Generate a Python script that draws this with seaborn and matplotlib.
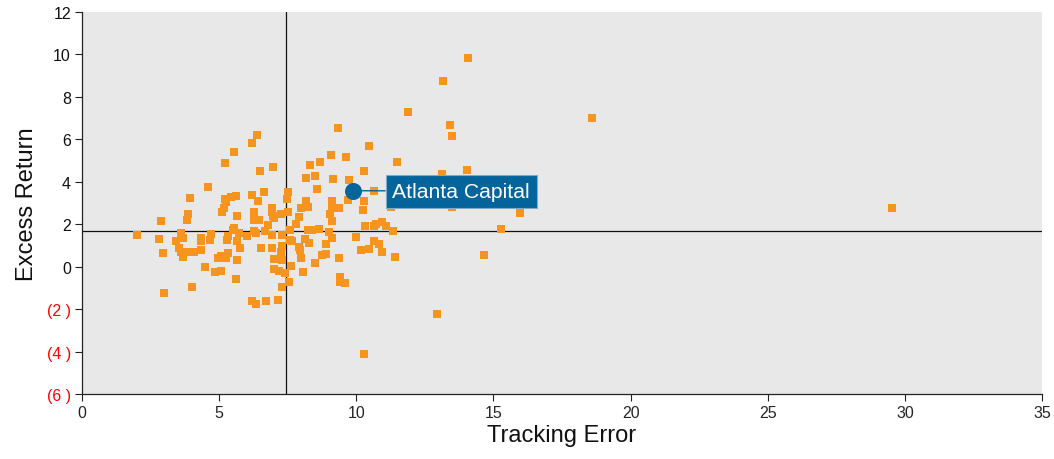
import matplotlib
matplotlib.use("Agg")
import matplotlib.pyplot as plt
import seaborn as sns
import pandas as pd
from matplotlib.ticker import FixedLocator, FuncFormatter

# ---- data ----
tracking_error = [
    2.01, 2.81, 2.88, 2.95, 2.99, 3.43, 3.54, 3.61, 3.68, 3.61, 3.81, 4.07, 3.68, 3.83, 3.87, 3.94,
    4.01, 4.34, 4.34, 4.34, 4.49, 4.60, 4.67, 4.69, 4.85, 5.07, 4.96, 5.07, 5.25, 5.32, 5.32, 5.29,
    5.11, 5.18, 5.22, 5.24, 5.22, 5.43, 5.54, 5.62, 5.65, 5.54, 5.51, 5.73, 5.65, 5.76, 5.65, 5.62,
    6.02, 6.20, 6.38, 6.48, 6.20, 6.42, 6.27, 6.27, 6.46, 6.27, 6.36, 6.20, 6.35, 6.64, 6.67, 6.53,
    6.71, 6.78, 6.93, 6.93, 6.97, 7.00, 6.97, 6.93, 6.93, 7.00, 7.00, 7.15, 7.18, 7.26, 7.29, 7.29,
    7.26, 7.29, 7.29, 7.40, 7.51, 7.48, 7.51, 7.55, 7.59, 7.59, 7.66, 7.62, 7.80, 7.91, 7.91, 7.95,
    7.99, 7.99, 8.06, 8.13, 8.17, 8.17, 8.24, 8.24, 8.28, 8.32, 8.39, 8.50, 8.50, 8.57, 8.64, 8.68,
    8.75, 8.90, 8.90, 9.01, 9.04, 9.08, 9.12, 9.12, 9.12, 9.12, 9.15, 9.34, 9.37, 9.37, 9.41, 9.41,
    9.59, 9.63, 9.70, 9.74, 9.99, 10.17, 10.25, 10.28, 10.28, 10.28, 10.32, 10.47, 10.47, 10.65,
    10.65, 10.65, 10.72, 10.83, 10.94, 10.94, 11.09, 11.27, 11.34, 11.41, 11.49, 11.89, 12.95,
    13.13, 13.17, 13.42, 13.49, 13.49, 14.04, 14.08, 14.66, 15.28, 15.97, 18.60, 29.54,
]
excess_return = [
    1.50, 1.31, 2.16, 0.65, -1.24, 1.21, 0.88, 1.59, 1.35, 0.69, 0.69, 0.69, 0.46, 2.20, 2.49, 3.24,
    -0.96, 1.35, 1.21, 0.79, -0.02, 3.76, 1.26, 1.54, -0.25, -0.20, 0.41, 0.50, 0.41, 0.65, 1.45, 1.26,
    2.58, 2.77, 3.19, 3.05, 4.89, 3.29, 5.41, 3.33, 2.39, 1.83, 1.75, 1.59, 1.21, 0.88, 0.32, -0.58,
    1.45, 5.83, 6.21, 4.51, 3.38, 3.10, 2.58, 2.20, 2.20, 1.68, 1.59, -1.62, -1.76, 3.52, 1.68, 0.88,
    -1.62, 1.97, 2.77, 2.58, 2.39, 2.30, 4.70, 1.50, 0.88, 0.36, -0.11, -1.57, -0.20, 2.49, 1.50, 0.98,
    0.69, 0.32, -0.96, -0.30, 3.52, 3.19, 2.58, -0.72, 1.73, 1.26, 1.21, 0.03, 2.01, 2.34, 0.93, 0.79,
    2.77, 0.41, -0.25, 1.31, 4.18, 3.10, 2.82, 1.73, 1.12, 4.80, 1.73, 4.28, 0.17, 3.67, 1.78, 4.94,
    0.55, 0.60, 1.07, 1.64, 2.49, 5.27, 3.10, 2.77, 2.16, 1.35, 4.14, 6.54, 2.77, 0.41, -0.49, -0.72,
    -0.77, 5.17, 3.15, 4.09, 1.40, 0.79, 2.67, 4.51, 3.10, -4.12, 1.92, 5.69, 0.83, 3.57,
    1.92, 1.21, 2.01, 1.07, 2.11, 0.69, 1.92, 2.82, 1.68, 0.46, 4.94, 7.30, -2.23,
    4.37, 8.76, 6.68, 6.17, 2.82, 4.56, 9.84, 0.55, 1.78, 2.53, 7.01, 2.77,
]
highlight_name = "Atlanta Capital"
highlight_te = 9.87
highlight_er = 3.58
mean_te = 7.43
mean_er = 1.70
x_ticks = [0, 5, 10, 15, 20, 25, 30, 35]
y_ticks = [-6, -4, -2, 0, 2, 4, 6, 8, 10, 12]
x_label = "Tracking Error"
y_label = "Excess Return"

df = pd.DataFrame({"te": tracking_error, "er": excess_return})

# ---- styling ----
sns.set_style("white")
plt.rcParams["font.family"] = ["Liberation Sans", "DejaVu Sans"]

fig = plt.figure(figsize=(10.54, 4.6), dpi=100)
ax = fig.add_axes([82 / 1054, 65 / 460, 960 / 1054, 382 / 460])
ax.set_facecolor("#E8E8E8")

ORANGE = "#F7941D"
BLUE = "#03659C"

ax.axvline(mean_te, color="#111111", lw=0.9, zorder=1)
ax.axhline(mean_er, color="#111111", lw=0.9, zorder=1)

sns.scatterplot(data=df, x="te", y="er", marker="s", s=30, color=ORANGE,
                linewidth=0, ax=ax, zorder=2)

ax.scatter([highlight_te], [highlight_er], s=150, color=BLUE, zorder=4, linewidth=0)
ax.annotate(highlight_name, xy=(highlight_te, highlight_er), xytext=(11.32, highlight_er - 0.02),
            ha="left", va="center", fontsize=15.2, color="white", zorder=5,
            bbox=dict(boxstyle="square,pad=0.33", fc=BLUE, ec="#7FA9C8", lw=0.8),
            arrowprops=dict(arrowstyle="-", color=BLUE, lw=1.0, shrinkA=0, shrinkB=0))

ax.set_xlim(0, 35)
ax.set_ylim(-6, 12)
ax.xaxis.set_major_locator(FixedLocator(x_ticks))
ax.yaxis.set_major_locator(FixedLocator(y_ticks))


def yfmt(v, pos):
    v = int(round(v))
    return f"({abs(v)} )" if v < 0 else f"{v}"


ax.yaxis.set_major_formatter(FuncFormatter(yfmt))
ax.tick_params(axis="both", which="major", labelsize=11.5, direction="out",
               length=5, width=0.8, color="#222222", pad=3, bottom=True, left=True)
for lbl, v in zip(ax.get_yticklabels(), y_ticks):
    lbl.set_color("#FF0000" if v < 0 else "#111111")

for s in ["top", "right"]:
    ax.spines[s].set_visible(False)
for s in ["left", "bottom"]:
    ax.spines[s].set_color("#222222")
    ax.spines[s].set_linewidth(0.9)

ax.set_xlabel(x_label, fontsize=17, color="#111111", labelpad=3)
ax.set_ylabel(y_label, fontsize=17, color="#111111", labelpad=6)

fig.savefig("out.png", dpi=100)
